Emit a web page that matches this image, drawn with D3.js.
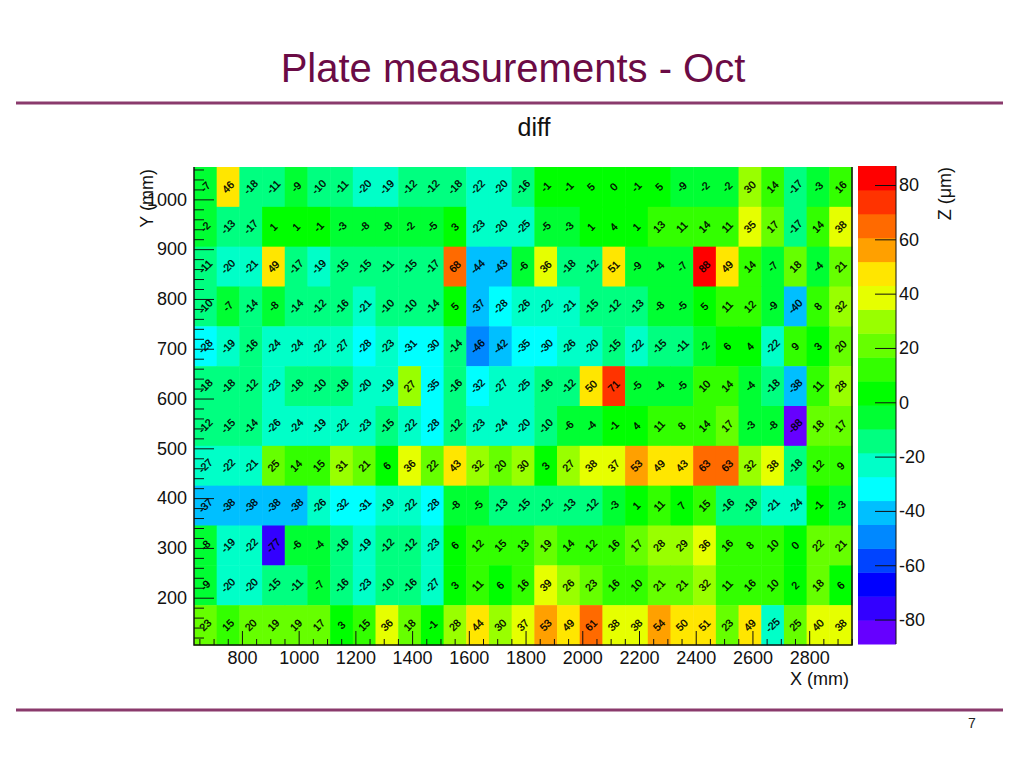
<!DOCTYPE html>
<html>
<head>
<meta charset="utf-8">
<title>Plate measurements - Oct</title>
<script src="https://cdn.jsdelivr.net/npm/d3@7"></script>
<style>
  body { margin: 0; background: white; }
  text { font-family: 'Liberation Sans', Arial, sans-serif; }
  .domain { display: none; }
</style>
</head>
<body>
<div id="graph"></div>
<script>
// diff values in um, one list per row of plate bins, top row first
var row1 = [-7, 46, -18, -11, -9, -10, -11, -20, -19, -12, -12, -18, -22, -20, -16, -1, -1, 5, 0, -1, 5, -9, -2, -2, 30, 14, -17, -3, 16]
var row2 = [-2, -13, -17, 1, 1, -1, -3, -8, -8, -2, -5, 3, -23, -20, -25, -5, -3, 1, 4, 1, 13, 11, 14, 11, 35, 17, -17, 14, 38]
var row3 = [-11, -20, -21, 49, -17, -19, -15, -15, -11, -15, -17, 68, -44, -43, -6, 36, -18, -12, 51, -9, -4, -7, 88, 49, 14, -7, 18, -4, 21]
var row4 = [-10, -7, -14, -8, -14, -12, -16, -21, -10, -10, -14, 5, -37, -28, -26, -22, -21, -15, -12, -13, -8, -5, 5, 11, 12, -9, -40, 8, 32]
var row5 = [-28, -19, -16, -24, -24, -22, -27, -28, -23, -31, -30, -14, -46, -42, -35, -30, -26, -20, -15, -22, -15, -11, -2, 6, 4, -22, 9, 3, 20]
var row6 = [-18, -18, -12, -23, -18, -10, -18, -20, -19, 27, -35, -16, -32, -27, -25, -16, -12, 50, 71, -5, -4, -5, 10, 14, -4, -18, -38, 11, 28]
var row7 = [-12, -15, -14, -26, -24, -19, -22, -23, -15, -22, -28, -12, -23, -24, -20, -10, -6, -4, -1, 4, 11, 8, 14, 17, -3, -8, -88, 18, 17]
var row8 = [-27, -22, -21, 25, 14, 15, 31, 21, 6, 36, 22, 43, 32, 20, 30, 3, 27, 38, 37, 53, 49, 43, 63, 63, 32, 38, -18, 12, 9]
var row9 = [-37, -38, -38, -38, -38, -26, -32, -31, -19, -22, -28, -8, -5, -13, -15, -12, -13, -12, -3, 1, 11, 7, 15, -16, -18, -21, -24, -1, -3]
var row10 = [-8, -19, -22, -77, -6, -4, -16, -19, -12, -12, -23, 6, 12, 15, 13, 19, 14, 12, 16, 17, 28, 29, 36, 16, 8, 10, 0, 22, 21]
var row11 = [-9, -20, -20, -15, -11, -7, -16, -23, -10, -16, -27, 3, 11, 6, 16, 39, 26, 23, 16, 10, 21, 21, 32, 11, 16, 10, 2, 18, 6]
var row12 = [23, 15, 20, 19, 19, 17, 3, 15, 36, 18, -1, 28, 44, 30, 37, 53, 49, 61, 38, 38, 54, 50, 51, 23, 49, -25, 25, 40, 38]
var rows = [row1, row2, row3, row4, row5, row6, row7, row8, row9, row10, row11, row12]

var xMajorTicks = [800, 1000, 1200, 1400, 1600, 1800, 2000, 2200, 2400, 2600, 2800]
var yMajorTicks = [200, 300, 400, 500, 600, 700, 800, 900, 1000]
var zTicks = [-80, -60, -40, -20, 0, 20, 40, 60, 80]

// contour bands, bottom to top
var bandColors = [
  '#6600ff', '#3300ff', '#0000ff', '#0044ff', '#0088ff',
  '#00bfff', '#00ffff', '#00ffc8', '#00ff80', '#00ff33',
  '#00ff00', '#33ff00', '#66ff00', '#99ff00', '#e6ff00',
  '#ffe600', '#ffa000', '#ff6a00', '#ff3300', '#ff0000',
]

var ink = '#111'
var maroon = '#6b0b45'

var svg = d3
  .select('#graph')
  .append('svg')
  .attr('width', 1024)
  .attr('height', 768)
  .style('display', 'block')

// bins
var xBinStart = 631
var yBinStart = 105
var binSize = { x: 80, y: 80 }
var xMax = xBinStart + binSize.x * row1.length
var yMax = yBinStart + binSize.y * rows.length

var x = d3.scaleLinear().domain([xBinStart, xMax]).range([194, 852])
var y = d3.scaleLinear().domain([yBinStart, yMax]).range([645, 167])

var zMin = -89
var zStep = 8.8
var zEdges = d3.range(bandColors.length + 1).map(function(i) {
  return zMin + i * zStep
})
var colorScale = d3.scaleThreshold().domain(zEdges.slice(1, -1)).range(bandColors)
var z = d3.scaleLinear().domain([zMin, zEdges[zEdges.length - 1]]).range([644, 166])

// heat cells
var cells = []
rows.forEach(function(row, r) {
  row.forEach(function(value, c) {
    cells.push({ value: value, col: c, row: rows.length - 1 - r })
  })
})

svg
  .append('g')
  .selectAll('rect')
  .data(cells)
  .enter()
  .append('rect')
  .attr('x', function(d) { return x(xBinStart + d.col * binSize.x) })
  .attr('y', function(d) { return y(yBinStart + (d.row + 1) * binSize.y) })
  .attr('width', x(xBinStart + binSize.x) - x(xBinStart) + 0.5)
  .attr('height', y(yBinStart) - y(yBinStart + binSize.y) + 0.5)
  .style('fill', function(d) { return colorScale(d.value) })

svg
  .append('g')
  .selectAll('text')
  .data(cells)
  .enter()
  .append('text')
  .attr('transform', function(d) {
    var cx = x(xBinStart + (d.col + 0.5) * binSize.x)
    var cy = y(yBinStart + (d.row + 0.5) * binSize.y)
    return 'translate(' + cx + ',' + cy + ') rotate(-45)'
  })
  .attr('text-anchor', 'middle')
  .attr('dy', '0.35em')
  .style('font-size', '10.5px')
  .style('fill', '#000')
  .style('stroke', '#000')
  .style('stroke-width', 0.3)
  .text(function(d) { return d.value })

// axes, ticks point into the frame like the original
var xMinor = d3.range(650, 2951, 50).filter(function(v) { return xMajorTicks.indexOf(v) < 0 })
var yMinor = d3.range(120, 1061, 20).filter(function(v) { return yMajorTicks.indexOf(v) < 0 })

var plainNumber = function(v) { return String(v) }

var xAxisG = svg.append('g').attr('transform', 'translate(0,645)')
xAxisG.call(d3.axisBottom(x).tickValues(xMajorTicks).tickSize(-14).tickPadding(6).tickFormat(plainNumber))
xAxisG.append('g').call(d3.axisBottom(x).tickValues(xMinor).tickSize(-6).tickFormat(''))

var yAxisG = svg.append('g').attr('transform', 'translate(194,0)')
yAxisG.call(d3.axisLeft(y).tickValues(yMajorTicks).tickSize(-20).tickPadding(7).tickFormat(plainNumber))
yAxisG.append('g').call(d3.axisLeft(y).tickValues(yMinor).tickSize(-10).tickFormat(''))

// frame: left, bottom and right only
svg
  .append('path')
  .attr('d', d3.line()([[x(xBinStart), y(yMax)], [x(xBinStart), y(yBinStart)], [x(xMax), y(yBinStart)], [x(xMax), y(yMax)]]))
  .style('fill', 'none')
  .style('stroke', ink)
  .style('stroke-width', 1.5)

// palette bar
svg
  .append('g')
  .selectAll('rect')
  .data(bandColors)
  .enter()
  .append('rect')
  .attr('x', 858)
  .attr('y', function(d, i) { return z(zEdges[i + 1]) })
  .attr('width', 38)
  .attr('height', function(d, i) { return z(zEdges[i]) - z(zEdges[i + 1]) + 0.5 })
  .style('fill', function(d) { return d })

var zAxisG = svg.append('g').attr('transform', 'translate(896,0)')
zAxisG.call(d3.axisRight(z).tickValues(zTicks).tickSize(-21).tickPadding(3).tickFormat(plainNumber))
svg
  .append('line')
  .attr('x1', 896)
  .attr('x2', 896)
  .attr('y1', z.range()[0])
  .attr('y2', z.range()[1])
  .style('stroke', ink)
  .style('stroke-width', 1)

svg.selectAll('.tick line').style('stroke', ink).style('stroke-width', 1)
svg
  .selectAll('.tick text')
  .style('font-size', '18px')
  .style('font-family', "'Liberation Sans', Arial, sans-serif")
  .style('fill', ink)

// axis titles
svg
  .append('text')
  .attr('x', 849)
  .attr('y', 685)
  .attr('text-anchor', 'end')
  .style('font-size', '18px')
  .style('fill', ink)
  .text('X (mm)')

svg
  .append('text')
  .attr('transform', 'translate(153,169) rotate(-90)')
  .attr('text-anchor', 'end')
  .style('font-size', '18px')
  .style('fill', ink)
  .text('Y (mm)')

svg
  .append('text')
  .attr('transform', 'translate(951,167) rotate(-90)')
  .attr('text-anchor', 'end')
  .style('font-size', '18px')
  .style('fill', ink)
  .text('Z (\u03bcm)')

// slide furniture
svg
  .append('text')
  .attr('x', 513)
  .attr('y', 82)
  .attr('text-anchor', 'middle')
  .style('font-size', '40px')
  .style('fill', maroon)
  .text('Plate measurements - Oct')

svg
  .append('text')
  .attr('x', 534)
  .attr('y', 136)
  .attr('text-anchor', 'middle')
  .style('font-size', '25px')
  .style('fill', ink)
  .text('diff')

svg
  .append('text')
  .attr('x', 972)
  .attr('y', 728)
  .attr('text-anchor', 'middle')
  .style('font-size', '14px')
  .style('fill', '#222')
  .text('7')

var ruleYs = [103, 710]
svg
  .selectAll('.rule')
  .data(ruleYs)
  .enter()
  .append('line')
  .attr('class', 'rule')
  .attr('x1', 16)
  .attr('x2', 1003)
  .attr('y1', function(d) { return d })
  .attr('y2', function(d) { return d })
  .style('stroke', '#8a3a6c')
  .style('stroke-width', 3)
</script>
</body>
</html>
